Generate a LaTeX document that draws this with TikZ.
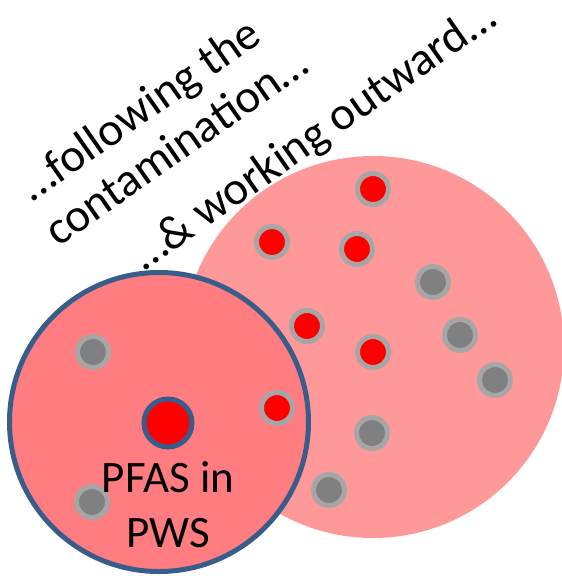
\documentclass[tikz,border=0pt]{standalone}
\usepackage{fontspec}
\setmainfont{Carlito}

\definecolor{bigpink}{HTML}{FF9999}
\definecolor{smallpink}{HTML}{FF7C80}
\definecolor{rimblue}{HTML}{385D8A}
\definecolor{ringgray}{HTML}{A6A6A6}
\definecolor{wellgray}{HTML}{808080}

\begin{document}
\begin{tikzpicture}[x = 1pt, y = -1pt,
	dot/.style = {draw = ringgray, line width = 5pt},
	txt/.style = {font = \fontsize{45}{55}\selectfont, inner sep = 0pt},
	slanted/.style = {txt, font = \fontsize{47}{57}\selectfont, rotate = 35, anchor = base west}]

	\useasboundingbox (0, 0) rectangle (562, 581);

	% Circles

	\fill [bigpink] (373, 347) circle [radius = 191pt];
	\filldraw [fill = smallpink, draw = rimblue, line width = 5pt] (159, 422) circle [radius = 149.5pt];

	% Wells

	\foreach \x/\y in {373/189, 272/242, 357/249, 307/326, 373/352, 277/408}
		\filldraw [dot, fill = red] (\x, \y) circle [radius = 15.5pt];
	\foreach \x/\y in {433/282, 460/335, 495/380, 93/352, 372/433, 329/490, 92/502}
		\filldraw [dot, fill = wellgray] (\x, \y) circle [radius = 15.5pt];

	\filldraw [fill = red, draw = rimblue, line width = 5pt] (168, 423) circle [radius = 24pt];

	% Labels

	\node [txt, align = center, anchor = base] (pws) at (168, 547) {PFAS in\\PWS};

	\node [slanted] (follow) at (32, 203) {…following the};
	\node [slanted] (contam) at (58, 248) {contamination…};
	\node [slanted] (outward) at (144, 272) {…\& working outward…};

\end{tikzpicture}
\end{document}
